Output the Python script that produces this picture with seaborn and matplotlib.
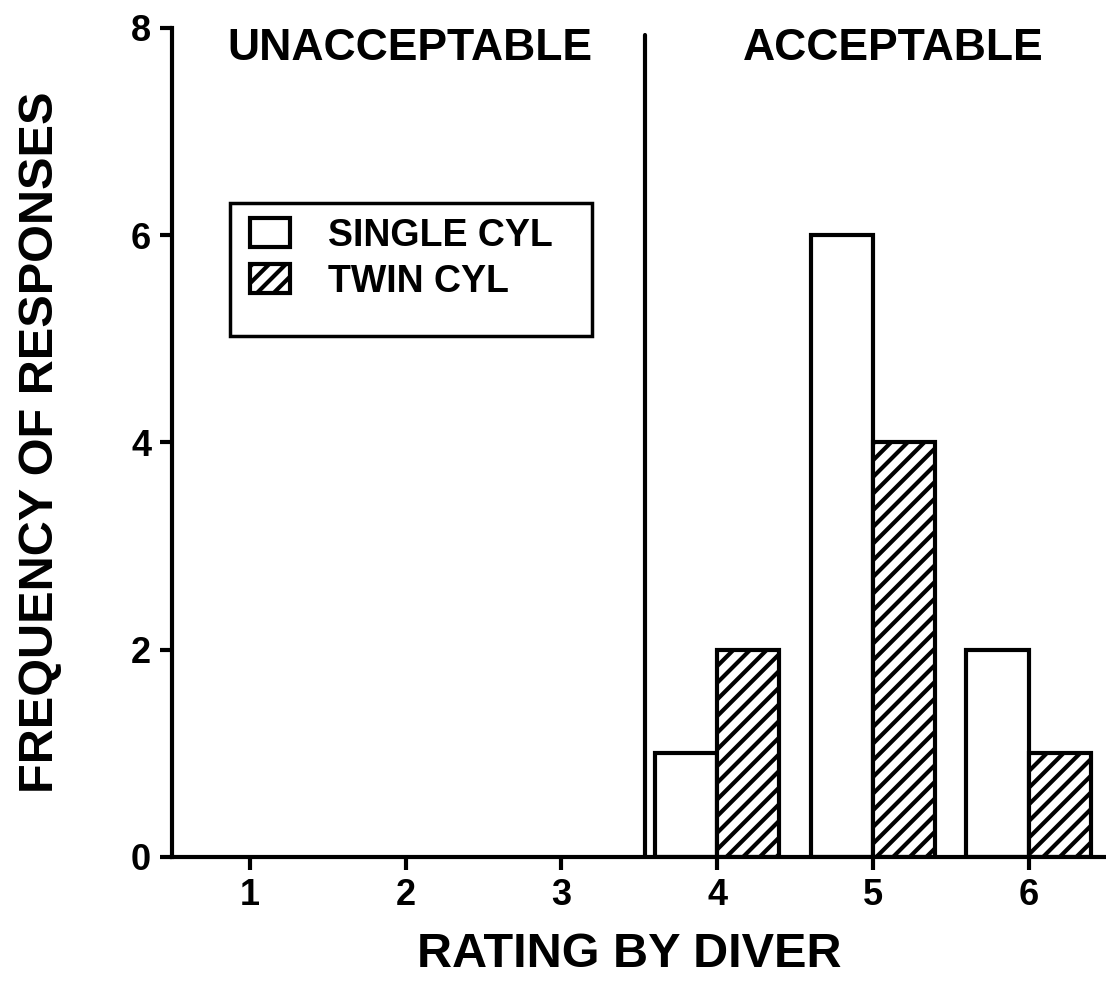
import numpy as np
import pandas as pd
import matplotlib
matplotlib.use("Agg")
import matplotlib.pyplot as plt
import seaborn as sns

# data
ratings = [1, 2, 3, 4, 5, 6]
bar_ratings = [4, 5, 6]
single_cyl = [1, 6, 2]
twin_cyl = [2, 4, 1]
series_names = ["SINGLE CYL", "TWIN CYL"]
y_ticks = [0, 2, 4, 6, 8]

df = pd.DataFrame({
    "rating": bar_ratings * 2,
    "type": [series_names[0]] * 3 + [series_names[1]] * 3,
    "count": single_cyl + twin_cyl,
})

sns.set_style("ticks", {"axes.edgecolor": "black", "text.color": "black",
                        "axes.labelcolor": "black", "xtick.color": "black",
                        "ytick.color": "black"})
plt.rcParams['font.family'] = ['Liberation Sans', 'DejaVu Sans']
plt.rcParams['font.weight'] = 'bold'
plt.rcParams['hatch.linewidth'] = 3
plt.rcParams['hatch.color'] = 'black'

fig = plt.figure(figsize=(11.06, 9.98), dpi=100)
ax = fig.add_axes([0.1555, 0.1413, 0.8436, 0.8307])

sns.barplot(data=df, x="rating", y="count", hue="type", order=ratings,
            hue_order=series_names, palette=["white", "white"],
            edgecolor="black", linewidth=3, width=0.8, ax=ax,
            legend=True, saturation=1)

# hatch the twin cylinder bars
for bar in ax.containers[1]:
    bar.set_hatch("//")

# divider between unacceptable / acceptable
ax.plot([2.535, 2.535], [0, 7.93], color="black", lw=3)
ax.text(1.03, 7.8, "UNACCEPTABLE", ha="center", va="center", fontsize=32, fontweight="bold")
ax.text(4.13, 7.8, "ACCEPTABLE", ha="center", va="center", fontsize=32, fontweight="bold")

ax.set_xlim(-0.5, 5.49)
ax.set_ylim(0, 8)
ax.set_yticks(y_ticks)
ax.set_xlabel("RATING BY DIVER", fontsize=35, fontweight="bold")
ax.set_ylabel("FREQUENCY OF RESPONSES", fontsize=35, fontweight="bold")
ax.xaxis.set_label_coords(0.49, -0.09)
ax.yaxis.set_label_coords(-0.117, 0.5)
ax.tick_params(axis="both", labelsize=26, width=3, length=9, direction="out", pad=6)

sns.despine(ax=ax)
ax.spines["left"].set_linewidth(3)
ax.spines["bottom"].set_linewidth(3)

leg = ax.legend(loc="upper left", bbox_to_anchor=(0.0636, 0.7937), fontsize=27,
                frameon=False, handlelength=1.07, handleheight=0.8,
                handletextpad=1.0, borderpad=0.5, labelspacing=0.27,
                borderaxespad=0)
for txt in leg.get_texts():
    txt.set_fontweight("bold")
for h, hatch in zip(leg.legend_handles, ["", "//"]):
    h.set_linewidth(3)
    h.set_edgecolor("black")
    h.set_hatch(hatch)

# legend frame drawn as a plain box
frame = plt.Rectangle((0.0625, 0.6285), 0.388, 0.1604, transform=ax.transAxes,
                      fill=False, edgecolor="black", lw=2.5, clip_on=False)
ax.add_patch(frame)

fig.savefig("out.png", dpi=100)
